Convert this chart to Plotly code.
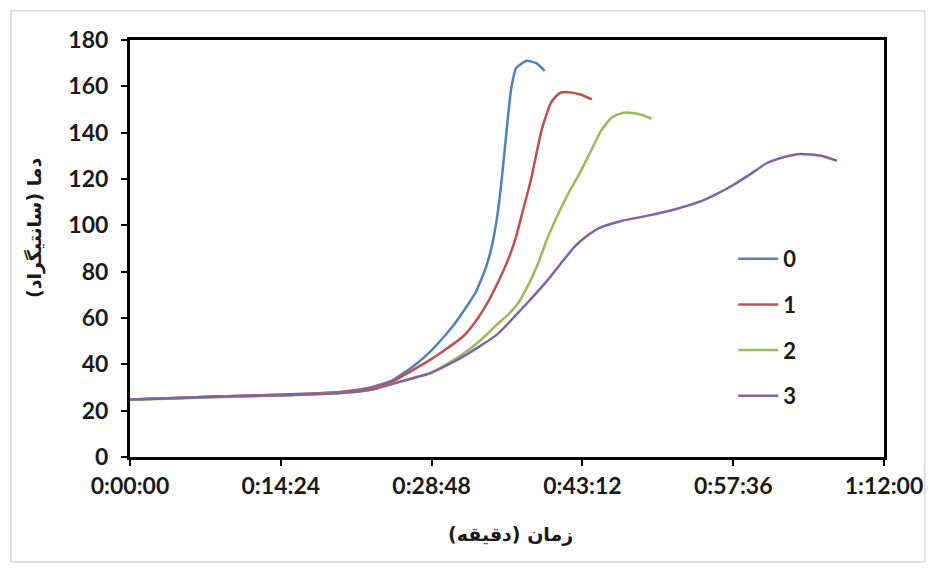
import plotly.graph_objects as go

# time in minutes, temperature in °C
t0 = [0, 5, 10, 15, 20, 23, 25, 27, 28.65, 30, 31, 32, 33, 34, 34.6, 35.1, 35.5, 35.9, 36.4, 36.9, 37.9, 38.8, 39.6]
y0 = [24.8, 25.6, 26.3, 27, 28, 30, 33, 39, 45.4, 52, 57.5, 64, 71, 82, 92, 105, 120, 138, 159, 168, 171, 170, 166.7]

t1 = [0, 5, 10, 15, 20, 23, 25, 27, 28.65, 30, 31.8, 33, 34.1, 35.2, 36.0, 36.8, 37.5, 38.3, 39.3, 40.2, 41.0, 41.8, 43.0, 44.1]
y1 = [24.8, 25.6, 26.3, 27, 28, 29.8, 32.5, 37.5, 41.9, 46, 52, 58.5, 66.3, 76, 84, 94, 106, 120, 141, 153, 157, 157.5, 156.5, 154.4]

t2 = [0, 5, 10, 15, 20, 23, 25, 27, 28.65, 30, 31.8, 33.5, 35, 36, 37, 38, 39, 40, 41, 42, 43, 44, 45, 46, 47, 48, 49, 49.8]
y2 = [24.6, 25.4, 26.0, 26.6, 27.5, 29, 31.5, 34, 36.3, 39.5, 44.5, 50.5, 57, 61, 66, 74, 84, 96, 106, 115, 123, 132, 141, 146.5, 148.5, 148.5, 147.5, 146]

t3 = [0, 5, 10, 15, 20, 23, 25, 27, 28.65, 30, 31.8, 35.0, 38.2, 40, 41.4, 42.5, 43.5, 44.9, 47.0, 49.7, 52.5, 54.4, 56, 57.6, 59.2, 60.8, 62.5, 64.0, 66.0, 67.5]
y3 = [24.8, 25.5, 26.2, 26.7, 27.6, 29, 31.5, 34, 36.1, 39, 43.3, 52.7, 67.8, 77, 85, 91, 95, 99, 102, 104.4, 107.5, 110.2, 113.5, 117.4, 122, 126.8, 129.5, 130.8, 130, 127.9]

names = ["0", "1", "2", "3"]
colors = ["#4F81BD", "#C0504D", "#9BBB59", "#8064A2"]

tick_vals = [0, 14.4, 28.8, 43.2, 57.6, 72]
tick_text = ["0:00:00", "0:14:24", "0:28:48", "0:43:12", "0:57:36", "1:12:00"]
y_ticks = [0, 20, 40, 60, 80, 100, 120, 140, 160, 180]

fig = go.Figure()
for i, (t, y) in enumerate([(t0, y0), (t1, y1), (t2, y2), (t3, y3)]):
    fig.add_trace(go.Scatter(
        x=t, y=y, mode="lines", name="<b>" + names[i] + "</b>", legendgroup=names[i],
        line=dict(color=colors[i], width=2.5, shape="spline", smoothing=0.5),
    ))

font_tick = dict(family="Lato, Liberation Sans, sans-serif", size=23, color="#1a1a1a", weight="bold")

fig.update_layout(
    width=930, height=568,
    margin=dict(l=130, r=46, t=40, b=111, autoexpand=False),
    paper_bgcolor="white", plot_bgcolor="white",
    xaxis=dict(range=[0, 72], tickvals=tick_vals, ticktext=tick_text, automargin=False,
               showgrid=False, zeroline=False, showline=True, linecolor="black",
               linewidth=3, mirror=True, ticks="outside", ticklen=6, tickwidth=2,
               tickcolor="black", tickfont=font_tick, ticklabelstandoff=0),
    yaxis=dict(range=[0, 180], tickvals=y_ticks, automargin=False,
               showgrid=False, zeroline=False, showline=True, linecolor="black",
               linewidth=3, mirror=True, ticks="outside", ticklen=6, tickwidth=2,
               tickcolor="black", tickfont=font_tick, ticklabelstandoff=8),
    legend=dict(x=0.80, y=0.525, xanchor="left", yanchor="top",
                font=dict(family="Lato, Liberation Sans, sans-serif", size=22, color="#1a1a1a"),
                bgcolor="rgba(0,0,0,0)", tracegroupgap=14, traceorder="grouped",
                itemwidth=40),
    showlegend=True,
)

fig.add_annotation(text="<b>زمان (دقیقه)</b>", xref="paper", yref="paper",
                   x=0.505, y=-0.187, xanchor="center", yanchor="middle", showarrow=False,
                   font=dict(family="DejaVu Sans", size=19, color="#1a1a1a"))
fig.add_annotation(text="<b>دما (سانتیگراد)</b>", xref="paper", yref="paper",
                   x=-0.127, y=0.55, xanchor="center", yanchor="middle", showarrow=False,
                   textangle=-90,
                   font=dict(family="DejaVu Sans", size=19, color="#1a1a1a"))

fig.add_shape(type="rect", xref="paper", yref="paper",
              x0=-0.158, x1=1.054, y0=-0.252, y1=1.07,
              line=dict(color="#d9d9d9", width=1.5), fillcolor="rgba(0,0,0,0)", layer="below")

fig.write_html("out.html", config={"displayModeBar": False},
               post_script="document.body.style.margin='0px';")
